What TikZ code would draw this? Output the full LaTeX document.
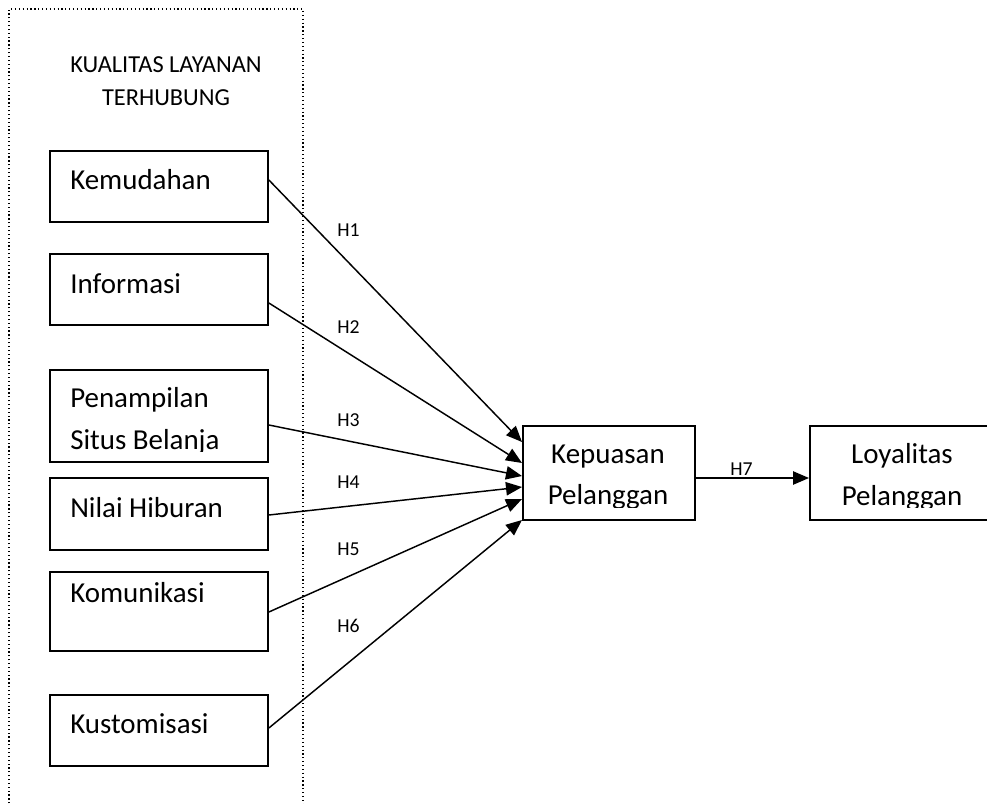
\documentclass[tikz,border=0pt]{standalone}
\usepackage{fontspec}
\setmainfont{Carlito}
\usetikzlibrary{arrows.meta}
\begin{document}
\begin{tikzpicture}[x=0.75pt,y=-0.75pt,
  box/.style={draw=black,line width=1.4pt,rectangle,inner sep=0pt,anchor=north west},
  lbl/.style={inner sep=0pt,font=\fontsize{21.7}{25}\selectfont},
  hdr/.style={inner sep=0pt,anchor=base,font=\fontsize{18.3}{21}\selectfont},
  hyp/.style={inner sep=0pt,anchor=base west,font=\fontsize{14.8}{17}\selectfont},
  arr/.style={line width=1.1pt,-{Triangle[length=12pt,width=10pt]}},
  frame/.style={dotted,line width=0.9pt}]
\useasboundingbox (0,0) rectangle (987,803);
% dotted frame
\draw[frame] (9,815) -- (9,9) -- (303,9) -- (303,815);
\node[hdr] (h1) at (166,72) {KUALITAS LAYANAN};
\node[hdr] (h2) at (166,105) {TERHUBUNG};
% left boxes
\node[box,minimum width=218*0.75pt,minimum height=71*0.75pt] (kem) at (49,150) {};
\node[box,minimum width=218*0.75pt,minimum height=71*0.75pt] (inf) at (49,253) {};
\node[box,minimum width=218*0.75pt,minimum height=92*0.75pt] (pen) at (49,369) {};
\node[box,minimum width=218*0.75pt,minimum height=72*0.75pt] (nil) at (49,477) {};
\node[box,minimum width=218*0.75pt,minimum height=79*0.75pt] (kom) at (49,571) {};
\node[box,minimum width=218*0.75pt,minimum height=71*0.75pt] (kus) at (49,694) {};
\node[lbl,anchor=base west] (kemt) at (70,189) {Kemudahan};
\node[lbl,anchor=base west] (inft) at (70,293) {Informasi};
\node[lbl,anchor=base west] (pent1) at (70,407) {Penampilan};
\begin{scope}
\clip (0,0) rectangle (987,451);
\node[lbl,anchor=base west] (pent2) at (70,449) {Situs Belanja};
\end{scope}
\node[lbl,anchor=base west] (nilt) at (70,517) {Nilai Hiburan};
\node[lbl,anchor=base west] (komt) at (70,602) {Komunikasi};
\node[lbl,anchor=base west] (kust) at (70,733) {Kustomisasi};
% right boxes
\node[box,minimum width=172*0.75pt,minimum height=94*0.75pt] (kep) at (522,425) {};
\node[box,minimum width=200*0.75pt,minimum height=94*0.75pt] (loy) at (809,425) {};
\node[lbl,anchor=base] (kept1) at (608,463) {Kepuasan};
\node[lbl,anchor=base] (loyt1) at (902,463) {Loyalitas};
\begin{scope}
\clip (0,0) rectangle (987,507);
\node[lbl,anchor=base] (kept2) at (608,504) {Pelanggan};
\node[lbl,anchor=base] (loyt2) at (902,505) {Pelanggan};
\end{scope}
% connectors
\draw[arr] (kem.east |- 0,180) -- (kep.west |- 0,442);
\draw[arr] (inf.east |- 0,303) -- (kep.west |- 0,463);
\draw[arr] (pen.east |- 0,425) -- (kep.west |- 0,476);
\draw[arr] (nil.east |- 0,515) -- (kep.west |- 0,487);
\draw[arr] (kom.east |- 0,612) -- (kep.west |- 0,499);
\draw[arr] (kus.east |- 0,728) -- (kep.west |- 0,520);
\draw[arr] (kep.east |- 0,478) -- (loy.west |- 0,478);
% hypothesis labels
\node[hyp] (H1) at (337,236) {H1};
\node[hyp] (H2) at (337,333) {H2};
\node[hyp] (H3) at (337,426) {H3};
\node[hyp] (H4) at (337,488) {H4};
\node[hyp] (H5) at (337,555) {H5};
\node[hyp] (H6) at (337,632) {H6};
\node[hyp] (H7) at (730,475) {H7};
\end{tikzpicture}
\end{document}
